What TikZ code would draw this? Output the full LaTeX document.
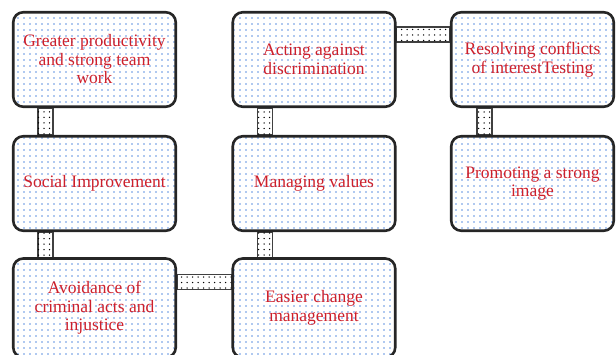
\documentclass[tikz,border=0pt]{standalone}
\usepackage{fontspec}
\setmainfont{Liberation Serif}
\usetikzlibrary{patterns.meta,backgrounds,calc}
\definecolor{boxred}{RGB}{205,32,44}
\definecolor{dotblue}{RGB}{95,145,225}

\tikzset{
  goal/.style={draw=black!85, line width=2.6pt, rounded corners=10pt,
    minimum width=162.5pt, minimum height=94.5pt, inner sep=0pt,
    pattern={Dots[distance=6pt,radius=0.85pt]}, pattern color=dotblue,
    align=center, text=boxred, font=\fontsize{17.5}{18.5}\selectfont},
  link/.style={draw=black!75, line width=1.2pt, fill=white,
    postaction={pattern={Dots[distance=5.5pt,radius=0.75pt]}, pattern color=black}}
}

\begin{document}
\begin{tikzpicture}[x=1pt,y=-1pt]
    \useasboundingbox (0,0) rectangle (616,354);
    \node[goal] (g1) at (94.5,59.5) {Greater productivity\\and strong team\\work};
    \node[goal] (g2) at (94.5,183.5) {Social Improvement};
    \node[goal, minimum height=99pt] (g3) at (94.5,308) {Avoidance of\\criminal acts and\\injustice};
    \node[goal] (g4) at (314,59.5) {Acting against\\discrimination};
    \node[goal] (g5) at (314,183.5) {Managing values};
    \node[goal, minimum height=99pt] (g6) at (314,308) {Easier change\\management};
    \node[goal] (g7) at (532.5,59.5) {Resolving conflicts\\of interestTesting};
    \node[goal] (g8) at (532.5,183.5) {Promoting a strong\\image};
    \begin{scope}[on background layer]
    \draw[link] ($(g1.south west)+(26,0)$) rectangle ($(g2.north west)+(41,0)$);
    \draw[link] ($(g2.south west)+(26,0)$) rectangle ($(g3.north west)+(41,0)$);
    \draw[link] ($(g4.south west)+(26,0)$) rectangle ($(g5.north west)+(41,0)$);
    \draw[link] ($(g5.south west)+(26,0)$) rectangle ($(g6.north west)+(41,0)$);
    \draw[link] ($(g7.south west)+(27,0)$) rectangle ($(g8.north west)+(42,0)$);
    \draw[link] ($(g3.north east)+(0,17)$) rectangle ($(g6.north west)+(0,32)$);
    \draw[link] ($(g4.north east)+(0,16)$) rectangle ($(g7.north west)+(0,31)$);
    \end{scope}
\end{tikzpicture}
\end{document}
